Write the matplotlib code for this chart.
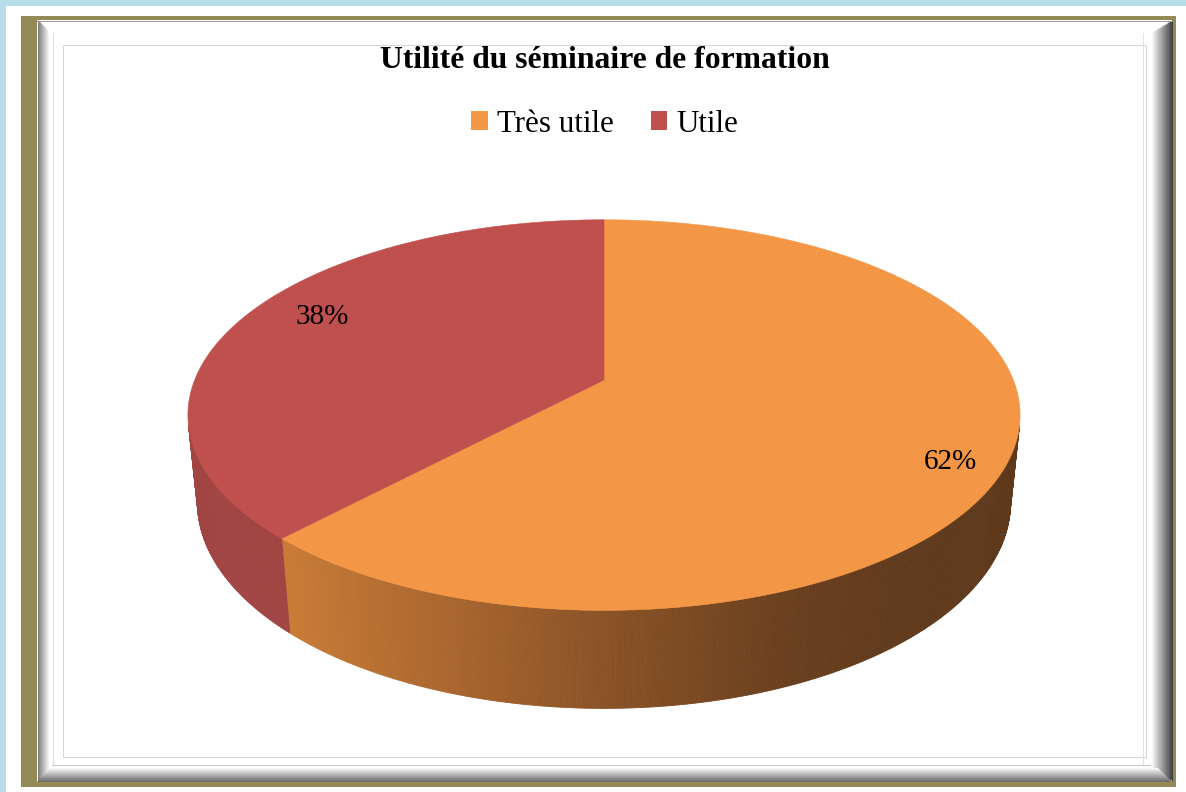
import numpy as np
import matplotlib
matplotlib.use('Agg')
import matplotlib.pyplot as plt
from matplotlib.patches import Polygon, Rectangle, Patch
from matplotlib.colors import to_rgb

# ---- data ----
title = "Utilité du séminaire de formation"
categories = ['Très utile', 'Utile']
values = [62, 38]
top_colors = ['#F39646', '#C0504D']

plt.rcParams['font.family'] = ['Liberation Serif', 'DejaVu Serif']

W, H = 1186, 792
fig = plt.figure(figsize=(11.86, 7.92), dpi=100)
fig.patch.set_facecolor('white')
ax = fig.add_axes([0, 0, 1, 1])
ax.set_xlim(0, W)
ax.set_ylim(H, 0)
ax.axis('off')

# ---- frame ----
blue = '#B7DDE8'
ax.add_patch(Rectangle((0, 0), W, 5.5, color=blue, lw=0))
ax.add_patch(Rectangle((0, 0), 6, H, color=blue, lw=0))
ax.add_patch(Rectangle((21, 16), 1155, 771, color='#948A54', lw=0))
ax.add_patch(Rectangle((37, 19.5), 1135, 762, color='white', lw=0))
px = 0.72  # 1 pixel in points
# left bevel
for i in range(12):
    g = 0.50 + 0.5 * i / 11
    ax.plot([37.5 + i, 37.5 + i], [20 + i, 781 - i], color=(g, g, g), lw=px * 1.05, solid_capstyle='butt')
# right bevel
for i in range(22):
    g = 0.25 + 0.75 * i / 21
    ax.plot([1171.5 - i, 1171.5 - i], [20 + i * 0.6, 781 - i * 0.6], color=(g, g, g), lw=px * 1.05, solid_capstyle='butt')
# bottom bevel
for i in range(14):
    g = 0.42 + 0.55 * i / 13
    ax.plot([37 + i, 1171 - i], [780.5 - i, 780.5 - i], color=(g, g, g), lw=px * 1.05, solid_capstyle='butt')
ax.plot([37, 1172], [20.5, 20.5], color='#9a9a9a', lw=px)
ax.plot([52.5, 52.5], [33, 764], color='#dedede', lw=px)
ax.plot([52, 1150], [764.5, 764.5], color='#c8c8c8', lw=px)
ax.plot([1142.5, 1142.5], [33, 764], color='#e2e2e2', lw=px)
ax.add_patch(Rectangle((62.5, 44.5), 1083, 712, fill=False, ec='#d6d6d6', lw=px))

# ---- 3D pie projection ----
cx, cy = 604.0, 380.0
F, D = 2022.0, 4.94
alpha = np.radians(27.5)
ca, sa = np.cos(alpha), np.sin(alpha)
depth = 0.242


def proj(u, v, w):
    z = v * ca + D - w * sa
    yc = v * sa + w * ca
    return cx + F * u / z, cy - F * yc / z


total = float(sum(values))
bounds = np.concatenate([[0], np.cumsum(values) / total]) * 2 * np.pi
t_front0 = np.arccos(-1.0 / (D * ca))
t_front1 = 2 * np.pi - t_front0

# wall colour gradients (by screen x)
orange_x = [270, 450, 600, 780, 900, 1020]
orange_c = ['#CB7D37', '#A9662E', '#8B5327', '#6B411F', '#613B1D', '#5F391C']
oc = np.array([to_rgb(c) for c in orange_c])


def wall_color(k, x):
    if k == 0:
        return tuple(np.interp(x, orange_x, oc[:, j]) for j in range(3))
    return to_rgb('#A14543')


for k in range(len(values)):
    a0 = max(bounds[k], t_front0)
    a1 = min(bounds[k + 1], t_front1)
    if a1 <= a0:
        continue
    n = max(2, int((a1 - a0) / np.radians(0.5)))
    ts = np.linspace(a0, a1, n + 1)
    for i in range(n):
        tt = np.array([ts[i], ts[i + 1]])
        u, v = np.sin(tt), np.cos(tt)
        xt, yt = proj(u, v, 0)
        xb, yb = proj(u, v, -depth)
        poly = [(xt[0], yt[0]), (xt[1], yt[1]), (xb[1], yb[1]), (xb[0], yb[0])]
        col = wall_color(k, xt.mean())
        ax.add_patch(Polygon(poly, closed=True, fc=col, ec=col, lw=0.6))

for k in range(len(values)):
    ts = np.linspace(bounds[k], bounds[k + 1], 400)
    x, y = proj(np.sin(ts), np.cos(ts), 0)
    pts = [(cx, cy)] + list(zip(x, y))
    ax.add_patch(Polygon(pts, closed=True, fc=top_colors[k], ec=top_colors[k], lw=0.4))

# ---- labels ----
label_pos = [(950, 462), (322, 317)]
for k, v in enumerate(values):
    ax.text(label_pos[k][0], label_pos[k][1], f"{v}%", ha='center', va='center',
            fontsize=21, color='black')

ax.text(605, 61, title, ha='center', va='center', fontsize=22.8, fontweight='bold')

handles = [Patch(facecolor=c, edgecolor='none') for c in top_colors]
fig.legend(handles, categories, loc='center', bbox_to_anchor=(605 / W, 1 - 124 / H),
           ncol=2, frameon=False, fontsize=22.3, handlelength=0.53, handleheight=0.53,
           handletextpad=0.3, columnspacing=1.2, borderpad=0)

fig.savefig('out.png', dpi=100)
